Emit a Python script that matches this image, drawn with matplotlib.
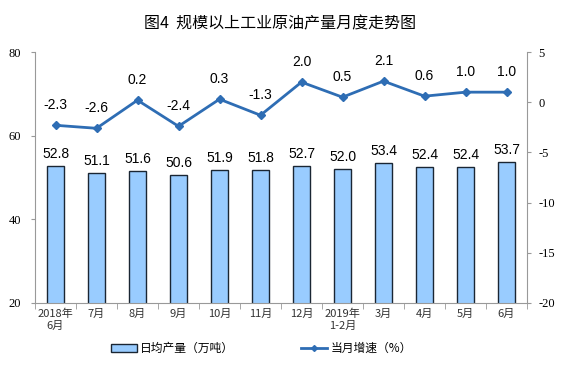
import matplotlib
matplotlib.use("Agg")
import matplotlib.pyplot as plt
import numpy as np

categories = ["2018年\n6月", "7月", "8月", "9月", "10月", "11月", "12月", "2019年\n1-2月", "3月", "4月", "5月", "6月"]
output = [52.8, 51.1, 51.6, 50.6, 51.9, 51.8, 52.7, 52.0, 53.4, 52.4, 52.4, 53.7]
growth = [-2.3, -2.6, 0.2, -2.4, 0.3, -1.3, 2.0, 0.5, 2.1, 0.6, 1.0, 1.0]

cjk = ["Noto Sans CJK SC", "DejaVu Sans"]
serif = ["Liberation Serif", "DejaVu Serif"]
sans = ["Liberation Sans", "DejaVu Sans"]

fig = plt.figure(figsize=(5.61, 3.65), dpi=100)
ax = fig.add_axes([0.0624, 0.170, 0.877, 0.6875])
x = np.arange(len(categories))
bar_color = "#99CCFF"
line_color = "#2E6DB4"
edge = "#1A2633"
ax.bar(x, output, width=0.42, color=bar_color, edgecolor=edge, linewidth=1.0, zorder=2)
ax.set_ylim(20, 80)
ax.set_xlim(-0.5, len(categories) - 0.5)
ax.set_yticks([20, 40, 60, 80])
ax.set_yticklabels(["20", "40", "60", "80"], fontfamily=serif, fontsize=9)
ax.set_xticks(x)
ax.set_xticklabels(categories, fontfamily=cjk, fontsize=8, color="#333333", linespacing=1.2)
ax.set_xticks(np.arange(-0.5, len(categories), 1.0), minor=True)
ax.tick_params(axis="x", which="major", length=0, pad=4)
ax.tick_params(axis="x", which="minor", length=4, color="#999999", direction="out")
ax.tick_params(axis="y", length=3, color="#999999", direction="out", pad=7)
for s in ["top", "right"]:
    ax.spines[s].set_visible(False)
ax.spines["left"].set_color("#999999")
ax.spines["bottom"].set_color("#999999")

for xi, v in zip(x, output):
    ax.text(xi, v + 1.2, f"{v:.1f}", ha="center", va="bottom", fontsize=10, fontfamily=sans)

ax2 = ax.twinx()
ax2.plot(x, growth, color=line_color, linewidth=2, marker="D", markersize=4.5, zorder=3)
ax2.set_ylim(-20, 5)
ax2.set_yticks([-20, -15, -10, -5, 0, 5])
ax2.set_yticklabels(["-20", "-15", "-10", "-5", "0", "5"], fontfamily=serif, fontsize=9)
ax2.tick_params(axis="y", length=3, color="#999999", direction="out", pad=5)
for s in ["top", "left", "bottom"]:
    ax2.spines[s].set_visible(False)
ax2.spines["right"].set_color("#999999")
for xi, v in zip(x, growth):
    ax2.text(xi, v + 1.3, f"{v:.1f}", ha="center", va="bottom", fontsize=10, fontfamily=sans)

fig.text(0.5, 0.935, "图4  规模以上工业原油产量月度走势图", ha="center", va="center",
         fontsize=11.5, fontfamily=cjk, fontweight="medium")

from matplotlib.patches import Patch
from matplotlib.lines import Line2D
h1 = Patch(facecolor=bar_color, edgecolor=edge, linewidth=1.0)
h2 = Line2D([0], [0], color=line_color, linewidth=2, marker="D", markersize=3)
fig.legend([h1, h2], ["日均产量（万吨）", "当月增速（%）"], loc="center",
           bbox_to_anchor=(0.466, 0.045), ncol=2, frameon=False,
           prop={"family": cjk, "size": 8.5}, columnspacing=5.7,
           handlelength=2.2, handleheight=0.7, handletextpad=0.3)

fig.savefig("out.png", dpi=100)
